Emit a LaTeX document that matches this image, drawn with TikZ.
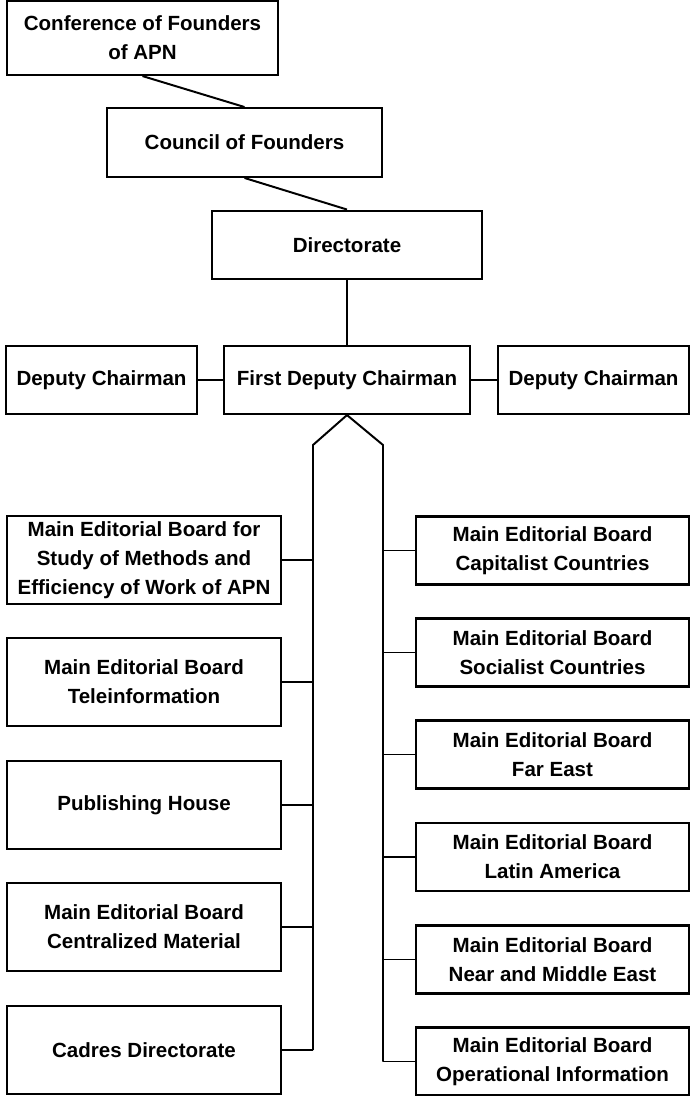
\documentclass[tikz,border=0pt]{standalone}
\usepackage{fontspec}
\setmainfont{Liberation Sans}
\usetikzlibrary{positioning,calc}

\begin{document}
\begin{tikzpicture}[
      x=0.025cm, y=-0.025cm,
      block/.style={rectangle, draw=black, line width=1.5pt, inner sep=0pt, align=center, font=\fontsize{14.6}{20.5}\selectfont\bfseries},
      topbox/.style={block, minimum width=6.8cm, minimum height=1.72cm},
      depbox/.style={block, minimum width=4.78cm, minimum height=1.7cm},
      leftbox/.style={block, minimum width=6.85cm, minimum height=2.22cm},
      rightbox/.style={block, minimum width=6.83cm, minimum height=1.7cm},
      link/.style={line width=1.4pt, line join=miter}
    ]
      \useasboundingbox (0,0) rectangle (690,1096);

      \node[topbox, minimum width=6.78cm, minimum height=1.85cm] (conf_apn) at (142.5,38) {Conference of Founders\\of APN};
      \node[topbox, minimum width=6.88cm] (council) at (244.5,142.5) {Council of Founders};
      \node[topbox, minimum width=6.75cm] (director) at (347,245) {Directorate};

      \node[block, minimum width=6.15cm, minimum height=1.7cm] (first_dep) at (347,380) {First Deputy Chairman};
      \node[depbox] (dep_left) at (101.5,380) {Deputy Chairman};
      \node[depbox] (dep_right) at (593.5,380) {Deputy Chairman};

      \node[leftbox] (mb_study) at (144,560) {Main Editorial Board for\\Study of Methods and\\Efficiency of Work of APN};
      \node[leftbox] (mb_tele) at (144,682) {Main Editorial Board\\Teleinformation};
      \node[leftbox] (publish) at (144,805) {Publishing House};
      \node[leftbox] (mb_central) at (144,927) {Main Editorial Board\\Centralized Material};
      \node[leftbox] (cadres) at (144,1050) {Cadres Directorate};

      \node[rightbox] (mb_capital) at (552.5,550.5) {Main Editorial Board\\Capitalist Countries};
      \node[rightbox] (mb_social) at (552.5,652.5) {Main Editorial Board\\Socialist Countries};
      \node[rightbox] (mb_fareast) at (552.5,754.5) {Main Editorial Board\\Far East};
      \node[rightbox] (mb_latin) at (552.5,857) {Main Editorial Board\\Latin America};
      \node[rightbox] (mb_neareast) at (552.5,959.5) {Main Editorial Board\\Near and Middle East};
      \node[rightbox] (mb_oper) at (552.5,1061.5) {Main Editorial Board\\Operational Information};

      \draw[link] (conf_apn.south) -- (council.north);
      \draw[link] (council.south) -- (director.north);
      \draw[link] (director.south) -- (first_dep.north);
      \draw[link] (dep_left) -- (first_dep);
      \draw[link] (first_dep) -- (dep_right);

      \coordinate (spine_l) at (313,445);
      \coordinate (spine_r) at (383,445);
      \draw[link] (first_dep.south) -- (spine_l) -- (spine_l |- cadres.east);
      \draw[link] (first_dep.south) -- (spine_r) -- (spine_r |- mb_oper.west);

      \foreach \b in {mb_study, mb_tele, publish, mb_central, cadres}
        \draw[link] (\b.east) -- (\b.east -| spine_l);
      \foreach \b in {mb_capital, mb_social, mb_fareast, mb_latin, mb_neareast, mb_oper}
        \draw[link] (\b.west) -- (\b.west -| spine_r);
    \end{tikzpicture}
\end{document}
